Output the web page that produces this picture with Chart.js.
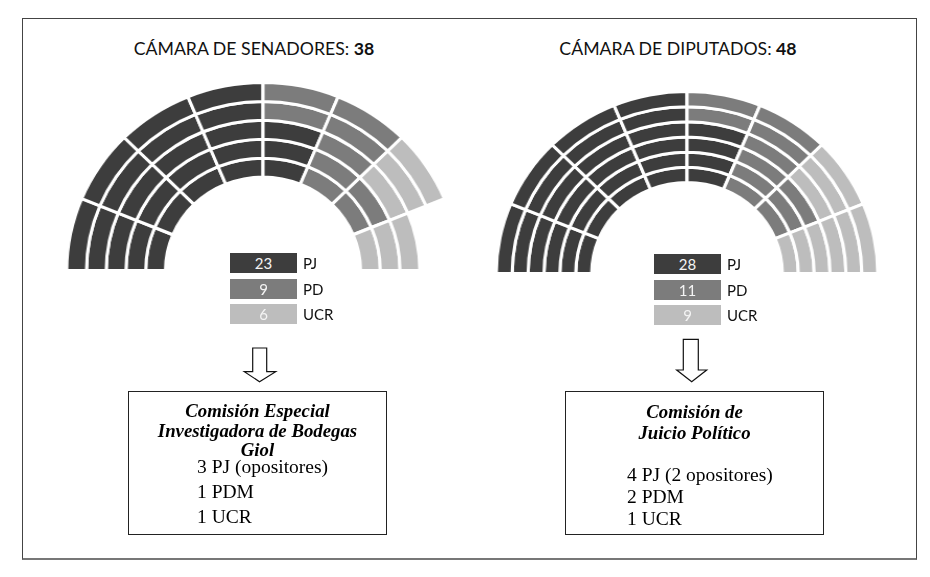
<!DOCTYPE html>
<html lang="es">
<head>
<meta charset="utf-8">
<title>Cámaras</title>
<script src="https://cdn.jsdelivr.net/npm/chart.js@4.4.0/dist/chart.umd.min.js"></script>
<style>
  body { margin: 0; width: 930px; height: 577px; background: #fff; position: relative; overflow: hidden; font-family: Lato, 'Open Sans', sans-serif; }
  .frame { position: absolute; left: 22px; top: 18px; width: 895px; height: 542px; border: 1px solid #444; border-bottom: 2px solid #777; box-sizing: border-box; }
  .title { position: absolute; width: 400px; text-align: center; font-size: 17.7px; line-height: 20px; color: #111; }
  .hemi { position: absolute; }
  .legend-row { position: absolute; height: 20px; }
  .legend-row .sw { position: absolute; left: 0; top: 0; width: 67px; height: 20px; color: #f4f4f4; font-size: 15px; line-height: 20px; text-align: center; }
  .legend-row .lb { position: absolute; left: 73px; top: 0; font-size: 15px; line-height: 20px; color: #111; white-space: nowrap; }
  .box { position: absolute; border: 1.5px solid #222; box-sizing: border-box; }
  .ln { position: absolute; font-family: 'Liberation Serif', 'DejaVu Serif', serif; font-size: 19.5px; line-height: 20px; color: #000; white-space: nowrap; }
  .ln.h { font-size: 18.8px; font-weight: bold; font-style: italic; text-align: center; }
  svg { position: absolute; left: 0; top: 0; }
</style>
</head>
<body>
<div class="frame"></div>

<div class="title" id="tSen" style="left:54px; top:39px;"></div>
<div class="title" id="tDip" style="left:478px; top:39px;"></div>

<div class="hemi" id="wSen" style="left:72px; top:81px; width:382px; height:191px; transform:scaleX(1.044);"><canvas id="senado"></canvas></div>
<div class="hemi" id="wDip" style="left:502px; top:90px; width:370px; height:185px; transform:scaleX(1.048);"><canvas id="diputados"></canvas></div>

<div id="legSen"></div>
<div id="legDip"></div>

<svg width="930" height="577">
  <polygon points="252.7,348 266.7,348 266.7,371.7 275.7,371.7 259.5,381.7 244.3,371.7 252.7,371.7" fill="#fff" stroke="#111" stroke-width="1.2"/>
  <polygon points="683.3,339.3 698.3,339.3 698.3,370 706.7,370 691.7,381.7 676.7,370 683.3,370" fill="#fff" stroke="#111" stroke-width="1.2"/>
</svg>

<div class="box" style="left:128px; top:391px; width:259px; height:144px;"></div>
<div class="ln h" style="left:128px; width:259px; top:401px;">Comisión Especial</div>
<div class="ln h" style="left:128px; width:259px; top:421px;">Investigadora de Bodegas</div>
<div class="ln h" style="left:128px; width:259px; top:440px;">Giol</div>
<div class="ln" style="left:197px; top:457px;">3 PJ (opositores)</div>
<div class="ln" style="left:197px; top:482px;">1 PDM</div>
<div class="ln" style="left:197px; top:507px;">1 UCR</div>

<div class="box" style="left:565px; top:391px; width:259px; height:144px;"></div>
<div class="ln h" style="left:565px; width:259px; top:402px;">Comisión de</div>
<div class="ln h" style="left:565px; width:259px; top:423px;">Juicio Político</div>
<div class="ln" style="left:627px; top:465px;">4 PJ (2 opositores)</div>
<div class="ln" style="left:627px; top:487px;">2 PDM</div>
<div class="ln" style="left:627px; top:509px;">1 UCR</div>

<script>
// seats per ring (outer ring first), sectors from left to right
const senadoRings = [
  ['PJ', 'PJ', 'PJ', 'PJ', 'PD', 'PD', 'UCR', null],
  ['PJ', 'PJ', 'PJ', 'PJ', 'PD', 'PD', 'UCR', null],
  ['PJ', 'PJ', 'PJ', 'PJ', 'PJ', 'PD', 'UCR', 'UCR'],
  ['PJ', 'PJ', 'PJ', 'PJ', 'PJ', 'PD', 'PD', 'UCR'],
  ['PJ', 'PJ', 'PJ', 'PJ', 'PJ', 'PD', 'PD', 'UCR'],
];
const diputadosRings = [
  ['PJ', 'PJ', 'PJ', 'PJ', 'PD', 'PD', 'UCR', 'UCR'],
  ['PJ', 'PJ', 'PJ', 'PJ', 'PD', 'PD', 'UCR', 'UCR'],
  ['PJ', 'PJ', 'PJ', 'PJ', 'PJ', 'PD', 'UCR', 'UCR'],
  ['PJ', 'PJ', 'PJ', 'PJ', 'PJ', 'PD', 'PD', 'UCR'],
  ['PJ', 'PJ', 'PJ', 'PJ', 'PJ', 'PD', 'PD', 'UCR'],
  ['PJ', 'PJ', 'PJ', 'PJ', 'PJ', 'PD', 'PD', 'UCR'],
];
const parties = ['PJ', 'PD', 'UCR'];
const partyColors = { PJ: '#3d3d3d', PD: '#7c7c7c', UCR: '#bdbdbd' };

const countSeats = (rings, p) => rings.flat().filter((s) => s === p).length;

function drawHemicycle(canvasId, rings, cutout) {
  const ctx = document.getElementById(canvasId).getContext('2d');
  return new Chart(ctx, {
    type: 'doughnut',
    data: {
      labels: rings[0].map((_, i) => 'sector ' + (i + 1)),
      datasets: rings.map((ring) => ({
        data: ring.map(() => 1),
        backgroundColor: ring.map((s) => (s ? partyColors[s] : 'rgba(0,0,0,0)')),
        borderColor: ring.map((s) => (s ? '#ffffff' : 'rgba(0,0,0,0)')),
        borderWidth: 3,
      })),
    },
    options: {
      responsive: true,
      maintainAspectRatio: false,
      animation: false,
      rotation: -90,
      circumference: 180,
      cutout: cutout,
      layout: { padding: 0 },
      plugins: {
        legend: { display: false },
        tooltip: { enabled: false },
      },
    },
  });
}

function drawLegend(id, rings, left, top) {
  const el = document.getElementById(id);
  parties.forEach((p, i) => {
    const row = document.createElement('div');
    row.className = 'legend-row';
    row.style.left = left + 'px';
    row.style.top = (top + i * 25.5) + 'px';
    row.innerHTML = '<div class="sw" style="background:' + partyColors[p] + '">' +
      countSeats(rings, p) + '</div><div class="lb">' + p + '</div>';
    el.appendChild(row);
  });
}

document.getElementById('tSen').innerHTML = 'CÁMARA DE SENADORES: <b>' + senadoRings.flat().filter(Boolean).length + '</b>';
document.getElementById('tDip').innerHTML = 'CÁMARA DE DIPUTADOS: <b>' + diputadosRings.flat().filter(Boolean).length + '</b>';

drawHemicycle('senado', senadoRings, '49.7%');
drawHemicycle('diputados', diputadosRings, '50%');
drawLegend('legSen', senadoRings, 230, 253);
drawLegend('legDip', diputadosRings, 654, 254);
</script>
</body>
</html>
